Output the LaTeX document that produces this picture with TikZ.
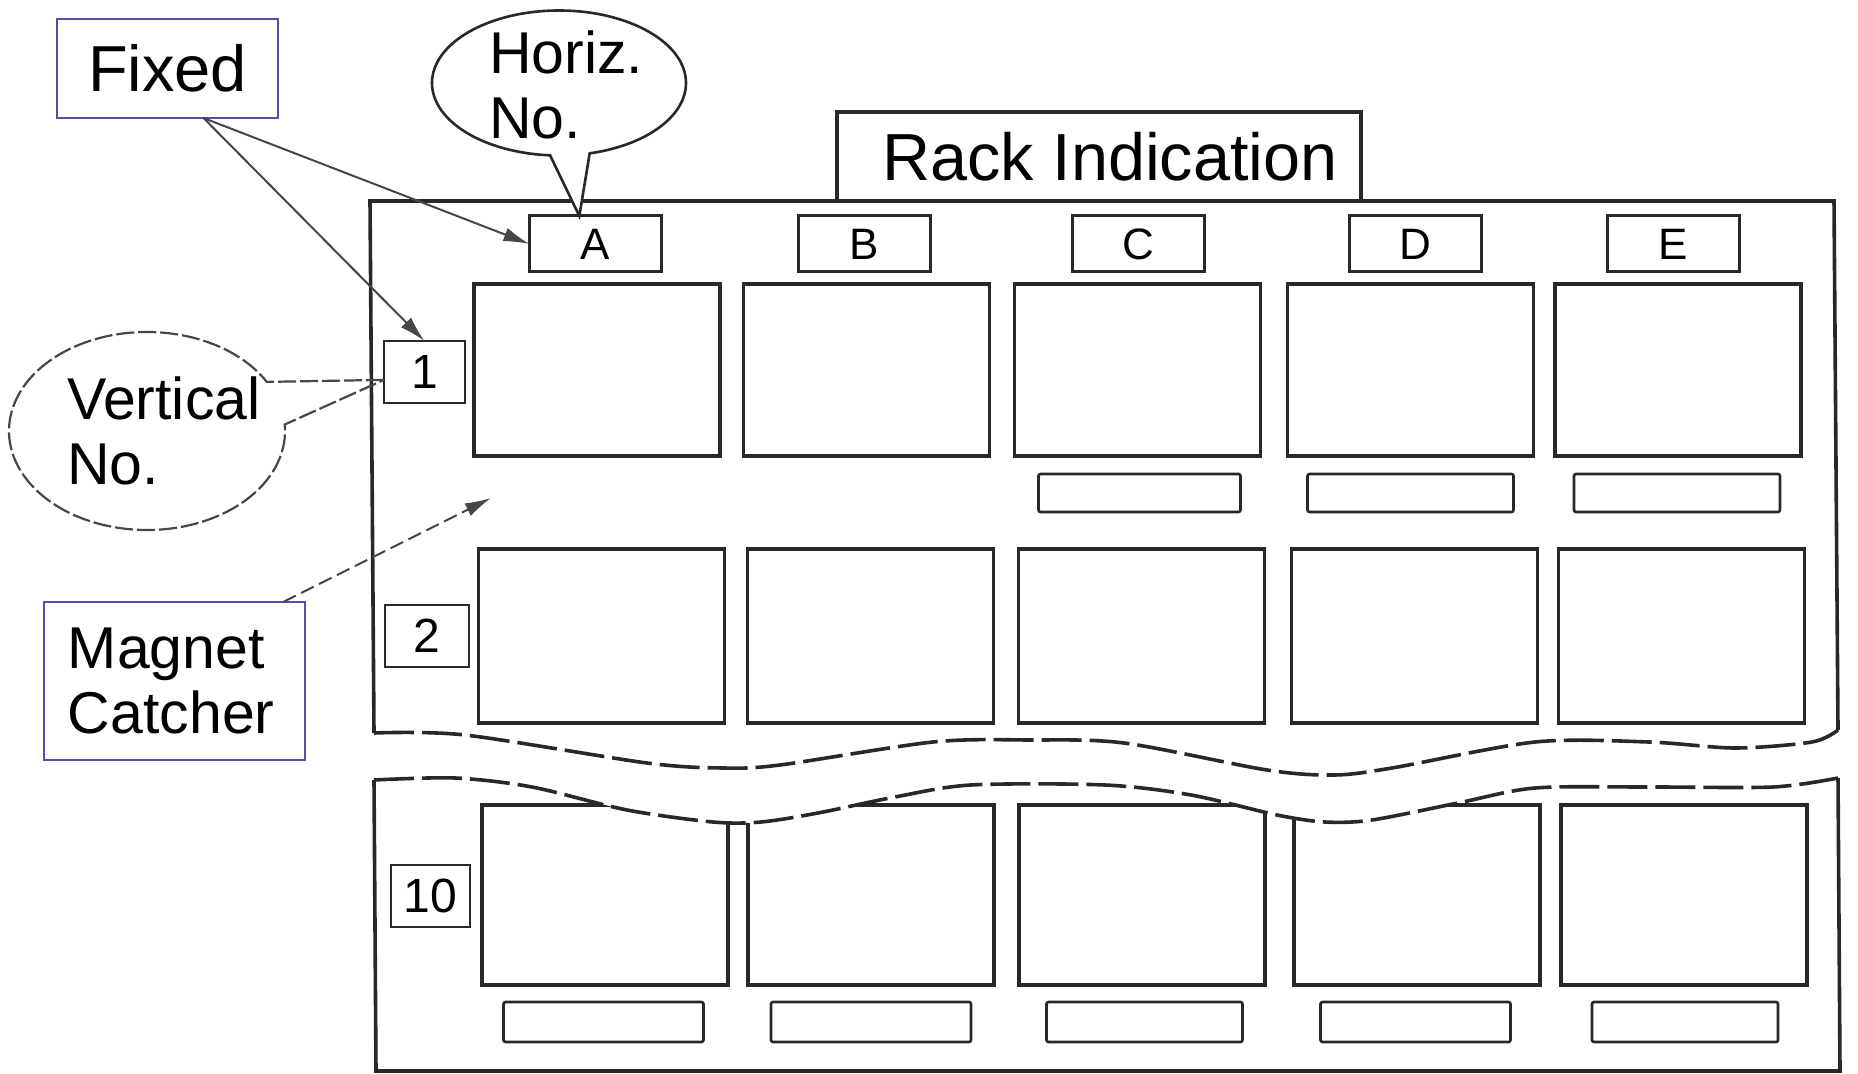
\documentclass[tikz,border=0pt]{standalone}
\usepackage{fontspec}
\setmainfont{Liberation Sans}
\usetikzlibrary{shapes.callouts,arrows.meta,calc}
\definecolor{ink}{RGB}{40,40,40}
\definecolor{boxblue}{RGB}{78,82,170}
\definecolor{arrowgray}{RGB}{70,70,70}
\begin{document}
\begin{tikzpicture}[x=0.5pt,y=-0.5pt,
  every node/.style={inner sep=0pt, outer sep=0pt},
  cell/.style={draw=ink, line width=1.6pt, minimum width=123pt},
  tagbox/.style={draw=ink, line width=1.3pt, rounded corners=1pt},
  colhead/.style={draw=ink, line width=1.5pt, minimum width=66pt, minimum height=28pt, font=\fontsize{22}{26}\selectfont},
  rowhead/.style={draw=ink, line width=1.4pt, minimum height=31pt, font=\fontsize{24}{28}\selectfont},
  bluebox/.style={draw=boxblue, line width=1.4pt},
  bigtext/.style={font=\fontsize{32.5}{36}\selectfont},
  racktext/.style={font=\fontsize{33.3}{36}\selectfont},
  midtext/.style={font=\fontsize{29.5}{32.5}\selectfont},
  frame/.style={draw=ink, line width=1.8pt},
  wave/.style={draw=ink, line width=1.8pt, dash pattern=on 20pt off 4pt},
  pointer/.style={draw=arrowgray, line width=1pt, -{Latex[length=13pt,width=7pt]}},
]
\useasboundingbox (0,0) rectangle (1858,1074);

% upper frame and rack tab
\draw[frame] (374,733) -- (370,201) -- (1834,201) -- (1838,730);
\node[draw=ink, line width=1.6pt, fill=white, minimum width=262pt, minimum height=44.5pt, racktext] (rack) at (1099,156.5) {\hspace*{11pt}Rack Indication};

% column headers
\node[colhead] (hA) at (595.5,244) {A};
\node[colhead] (hB) at (864.5,244) {B};
\node[colhead] (hC) at (1138.5,244) {C};
\node[colhead] (hD) at (1415,244) {D};
\node[colhead] (hE) at (1673.5,244) {E};

% row 1
\node[cell, minimum height=86pt] (a1) at (597,370) {};
\node[cell, minimum height=86pt] (b1) at (866.5,370) {};
\node[cell, minimum height=86pt] (c1) at (1137.5,370) {};
\node[cell, minimum height=86pt] (d1) at (1410.5,370) {};
\node[cell, minimum height=86pt] (e1) at (1678,370) {};
\node[tagbox, minimum width=101pt, minimum height=19pt] (tc1) at (1139.5,493) {};
\node[tagbox, minimum width=103pt, minimum height=19pt] (td1) at (1410.5,493) {};
\node[tagbox, minimum width=103pt, minimum height=19pt] (te1) at (1677,493) {};

% row 2
\node[cell, minimum height=87pt] (a2) at (601.5,636) {};
\node[cell, minimum height=87pt] (b2) at (870.5,636) {};
\node[cell, minimum height=87pt] (c2) at (1141.5,636) {};
\node[cell, minimum height=87pt] (d2) at (1414.5,636) {};
\node[cell, minimum height=87pt] (e2) at (1681.5,636) {};

% row 10, cut off above the lower break line
\begin{scope}
\clip plot[smooth, tension=0.5] coordinates {(374,780) (455,778) (532,787) (627,810) (713,822) (761,822) (818,813) (895,797) (971,785) (1105,785) (1191,795) (1277,815) (1325,822) (1372,820) (1458,803) (1535,788) (1649,787) (1773,787) (1838,778)} -- (1858,778) -- (1858,1074) -- (360,1074) -- (360,780) -- cycle;
\node[cell, minimum height=90pt] (a10) at (605,895) {};
\node[cell, minimum height=90pt] (b10) at (871,895) {};
\node[cell, minimum height=90pt] (c10) at (1142,895) {};
\node[cell, minimum height=90pt] (d10) at (1417,895) {};
\node[cell, minimum height=90pt] (e10) at (1684,895) {};
\end{scope}
\node[tagbox, minimum width=100pt, minimum height=20pt] (ta10) at (603.5,1022) {};
\node[tagbox, minimum width=100pt, minimum height=20pt] (tb10) at (871,1022) {};
\node[tagbox, minimum width=98pt, minimum height=20pt] (tc10) at (1144.5,1022) {};
\node[tagbox, minimum width=95pt, minimum height=20pt] (td10) at (1415.5,1022) {};
\node[tagbox, minimum width=93pt, minimum height=20pt] (te10) at (1685,1022) {};

% break lines
\draw[wave] plot[smooth, tension=0.5] coordinates {(374,733) (465,735) (647,763) (723,768) (780,765) (933,742) (1029,740) (1124,743) (1267,770) (1334,775) (1392,768) (1535,742) (1649,742) (1735,748) (1812,742) (1838,730)};
\draw[wave] plot[smooth, tension=0.5] coordinates {(374,780) (455,778) (532,787) (627,810) (713,822) (761,822) (818,813) (895,797) (971,785) (1105,785) (1191,795) (1277,815) (1325,822) (1372,820) (1458,803) (1535,788) (1649,787) (1773,787) (1838,778)};
% lower frame
\draw[frame] (374,780) -- (376,1071) -- (1840,1071) -- (1838,778);

% row numbers
\node[rowhead, minimum width=40.5pt] (r1) at (424.5,372) {1};
\node[rowhead, minimum width=42pt] (r2) at (427,636) {2};
\node[rowhead, minimum width=39.5pt] (r10) at (430.5,896) {10};

% callouts and labels
\node[bluebox, minimum width=110.5pt, minimum height=49.5pt, bigtext] (fixed) at (167.5,68.5) {Fixed};
\node[bluebox, inner xsep=12pt, text width=106.5pt, minimum height=79pt, midtext, align=left] (magnet) at (174.5,681) {Magnet\\Catcher};

\node[ellipse callout, draw=ink, line width=1.3pt, fill=white, minimum width=127pt, minimum height=72.5pt,
      callout pointer arc=18, callout absolute pointer={(hA.120)}] (hcall) at (559,83) {};
\node[midtext, align=left, anchor=west] (htext) at (489,85) {Horiz.\\No.};

\node[ellipse callout, draw=arrowgray, line width=1.1pt, dash pattern=on 9pt off 2pt, minimum width=138pt, minimum height=99pt,
      callout pointer arc=26, callout absolute pointer={(r1.191)}] (vcall) at (147,431) {};
\node[midtext, align=left, anchor=west] (vtext) at (67,431) {Vertical\\No.};

% arrows
\draw[pointer] (fixed.306) -- (hA.west);
\draw[pointer] (fixed.306) -- (r1.north);
\coordinate (mtip) at (491,498);
\draw[pointer, dash pattern=on 7pt off 3pt] (magnet.36) -- (mtip);
\end{tikzpicture}
\end{document}
